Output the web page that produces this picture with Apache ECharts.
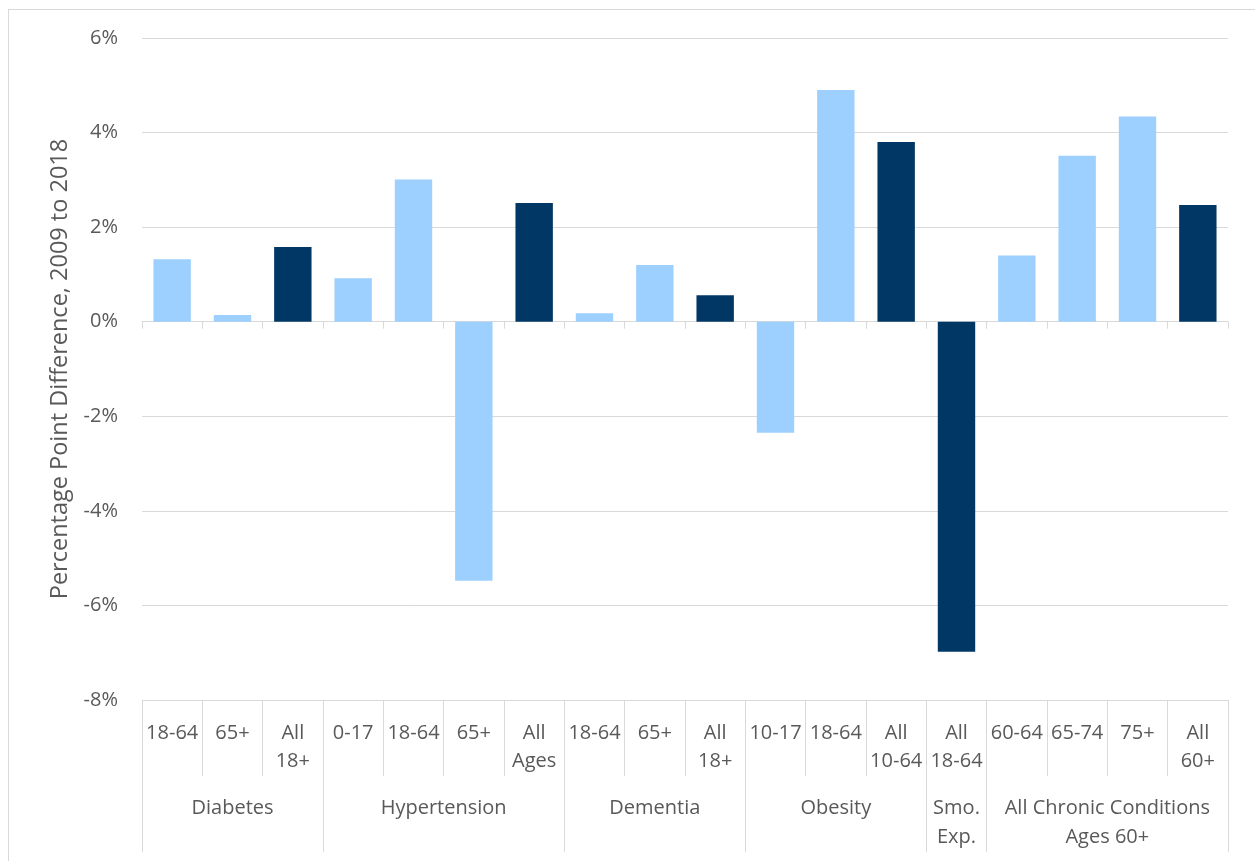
<!DOCTYPE html>
<html>
<head>
<meta charset="utf-8">
<script src="https://cdn.jsdelivr.net/npm/echarts@6/dist/echarts.min.js"></script>
<style>
  html, body { margin: 0; padding: 0; background: #fff; overflow: hidden; }
  #chart { width: 1255px; height: 861px; position: absolute; left: 0; top: 0; }
  #frame { position: absolute; left: 8px; top: 9px; width: 1300px; height: 900px;
           border: 1.5px solid #d9d9d9; pointer-events: none; }
</style>
</head>
<body>
<div id="chart"></div>
<div id="frame"></div>
<script>
// ---- data ----
const subLabels = ['18-64', '65+', 'All\n18+', '0-17', '18-64', '65+', 'All\nAges',
  '18-64', '65+', 'All\n18+', '10-17', '18-64', 'All\n10-64', 'All\n18-64',
  '60-64', '65-74', '75+', 'All\n60+'];
const groupNames = ['Diabetes', 'Hypertension', 'Dementia', 'Obesity', 'Smo.\nExp.',
  'All Chronic Conditions\nAges 60+'];
const groupSizes = [3, 4, 3, 3, 1, 4];
const values = [1.32, 0.14, 1.58, 0.92, 3.01, -5.48, 2.51, 0.18, 1.20, 0.56,
  -2.35, 4.90, 3.80, -6.98, 1.40, 3.51, 4.34, 2.47];
const isAll = [0, 0, 1, 0, 0, 0, 1, 0, 0, 1, 0, 0, 1, 1, 0, 0, 0, 1];
const yTicks = { min: -8, max: 6, interval: 2 };

// ---- derived ----
const catKeys = subLabels.map((s, i) => i + ':' + s);
const halfCount = subLabels.length * 2 + 1;
const groupAxisData = new Array(halfCount).fill('');
const boundarySet = new Set([0]);
const centerSet = new Set();
let start = 0;
groupSizes.forEach((n, gi) => {
  const c = start * 2 + n; // center in half-units
  groupAxisData[c] = groupNames[gi];
  centerSet.add(c);
  start += n;
  boundarySet.add(start * 2);
});

const LIGHT = '#9dd0ff';
const DARK = '#003764';
const TXT = '#595959';
const GRID = '#d9d9d9';
const FONT = 'Open Sans';

const chart = echarts.init(document.getElementById('chart'));
chart.setOption({
  animation: false,
  grid: { left: 142, right: 27, top: 38, bottom: 161, containLabel: false },
  xAxis: [
    {
      type: 'category', data: catKeys, position: 'bottom',
      axisLine: { onZero: true, lineStyle: { color: GRID, width: 1 } },
      axisTick: { show: true, interval: 0, length: 7, lineStyle: { color: GRID } },
      axisLabel: { show: false },
      splitLine: { show: false }
    },
    {
      type: 'category', data: subLabels, position: 'bottom',
      axisLine: { show: false, onZero: false },
      axisTick: { show: true, interval: 0, length: 76, lineStyle: { color: GRID } },
      axisLabel: { interval: 0, fontFamily: FONT, fontSize: 20, lineHeight: 28,
                   margin: 19, color: TXT },
      splitLine: { show: false }
    },
    {
      type: 'category', data: groupAxisData, position: 'bottom', boundaryGap: false,
      axisLine: { show: false, onZero: false },
      axisTick: { show: true, length: 152, lineStyle: { color: GRID },
                  interval: (idx) => boundarySet.has(idx) },
      axisLabel: { fontFamily: FONT, fontSize: 20, lineHeight: 29, margin: 94, color: TXT,
                   interval: (idx) => centerSet.has(idx) },
      splitLine: { show: false }
    }
  ],
  yAxis: {
    type: 'value', min: yTicks.min, max: yTicks.max, interval: yTicks.interval,
    name: 'Percentage Point Difference, 2009 to 2018',
    nameLocation: 'middle', nameGap: 70,
    nameTextStyle: { fontFamily: FONT, fontSize: 23.5, color: TXT },
    axisLine: { show: false },
    axisTick: { show: false },
    axisLabel: { formatter: '{value}%', fontFamily: FONT, fontSize: 20, color: TXT, margin: 24 },
    splitLine: { show: true, lineStyle: { color: GRID, width: 1 } }
  },
  series: [{
    type: 'bar',
    xAxisIndex: 0,
    barWidth: '62%',
    data: values.map((v, i) => ({ value: v, itemStyle: { color: isAll[i] ? DARK : LIGHT } }))
  }]
});
</script>
</body>
</html>
